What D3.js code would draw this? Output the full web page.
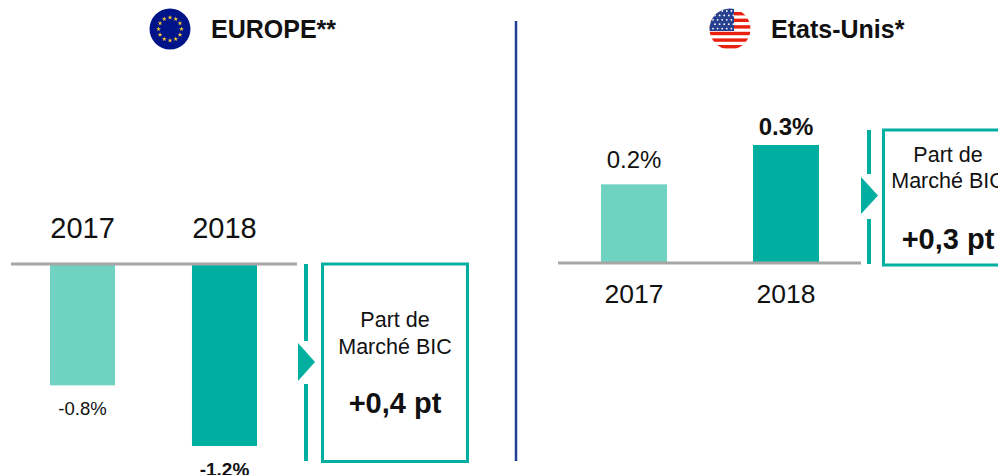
<!DOCTYPE html>
<html>
<head>
<meta charset="utf-8">
<script src="https://cdn.jsdelivr.net/npm/d3@7"></script>
<style>
html, body { margin: 0; padding: 0; background: #fff; }
svg { display: block; }
text { font-family: "Liberation Sans", Arial, sans-serif; fill: #111; }
</style>
</head>
<body>
<script>
var years = ["2017", "2018"];
var europeValues = [-0.8, -1.2];
var usValues = [0.2, 0.3];
var europeValueLabels = ["-0.8%", "-1.2%"];
var usValueLabels = ["0.2%", "0.3%"];
var barColors = ["#70d2c0", "#00afa0"];

var TEAL = "#00afa0";
var GREY = "#a6a6a6";

var svg = d3.select("body").append("svg").attr("width", 998).attr("height", 475);

function drawBars(o) {
	var x = d3.scaleBand().domain(o.years).range(o.xRange).paddingInner(o.inner).paddingOuter(0);
	var y = d3.scaleLinear().domain(o.domain).range(o.yRange);
	var g = svg.append("g");

	g.selectAll("rect").data(o.values).enter().append("rect")
		.attr("x", function(d, i) { return x(o.years[i]); })
		.attr("width", x.bandwidth())
		.attr("y", function(d) { return Math.min(y(0), y(d)); })
		.attr("height", function(d) { return Math.abs(y(d) - y(0)); })
		.style("fill", function(d, i) { return barColors[i]; });

	// baseline
	g.append("line")
		.attr("x1", o.axis[0]).attr("x2", o.axis[1])
		.attr("y1", y(0)).attr("y2", y(0))
		.style("stroke", GREY).style("stroke-width", 3);

	// year labels
	g.selectAll("text.year").data(o.years).enter().append("text")
		.attr("class", "year")
		.attr("x", function(d) { return x(d) + x.bandwidth() / 2; })
		.attr("y", o.yearY)
		.attr("text-anchor", "middle")
		.style("font-size", o.yearSize + "px")
		.text(function(d) { return d; });

	// value labels, last one is bold
	g.selectAll("text.val").data(o.values).enter().append("text")
		.attr("class", "val")
		.attr("x", function(d, i) { return x(o.years[i]) + x.bandwidth() / 2; })
		.attr("y", function(d, i) { return y(d) + o.labelDy[i]; })
		.attr("text-anchor", "middle")
		.style("font-size", function(d, i) { return o.labelSize[i] + "px"; })
		.style("font-weight", function(d, i) { return i == 1 ? "bold" : "normal"; })
		.text(function(d, i) { return o.labels[i]; });
}

drawBars({
	years: years, values: europeValues, labels: europeValueLabels,
	domain: [0, -1.2], yRange: [264, 446], xRange: [50, 257], inner: 0.542,
	axis: [11, 297], yearY: 238, yearSize: 29,
	labelDy: [30, 30], labelSize: [18.5, 19]
});

drawBars({
	years: years, values: usValues, labels: usValueLabels,
	domain: [0, 0.3], yRange: [263, 145], xRange: [601, 819], inner: 0.566,
	axis: [558, 861], yearY: 303, yearSize: 26.5,
	labelDy: [-16, -10], labelSize: [24, 24]
});

// vertical separator
svg.append("line")
	.attr("x1", 516).attr("x2", 516).attr("y1", 21).attr("y2", 461)
	.style("stroke", "#1f3f94").style("stroke-width", 2.5);

function callout(bar, top1, bot1, top2, bot2, triTop, triBot, triW, bx, by, bw, bh, cx, lines) {
	svg.append("rect").attr("x", bar).attr("y", top1).attr("width", 4).attr("height", bot1 - top1).style("fill", TEAL);
	svg.append("rect").attr("x", bar).attr("y", top2).attr("width", 4).attr("height", bot2 - top2).style("fill", TEAL);
	svg.append("path")
		.attr("d", "M" + (bar - 6) + "," + triTop + "L" + (bar - 6 + triW) + "," + ((triTop + triBot) / 2) + "L" + (bar - 6) + "," + triBot + "Z")
		.style("fill", TEAL);
	svg.append("rect").attr("x", bx).attr("y", by).attr("width", bw).attr("height", bh)
		.style("fill", "#fff").style("stroke", TEAL).style("stroke-width", 3);
	lines.forEach(function(l) {
		svg.append("text").attr("x", cx).attr("y", l.y).attr("text-anchor", "middle")
			.style("font-size", l.size + "px").style("font-weight", l.bold ? "bold" : "normal").text(l.t);
	});
}

callout(304, 264, 341, 384, 461, 343, 381, 17, 322.5, 264, 145, 197.5, 395, [
	{ t: "Part de", y: 327, size: 21.5 },
	{ t: "Marché BIC", y: 354, size: 21.5 },
	{ t: "+0,4 pt", y: 413, size: 29, bold: true }
]);

callout(867, 130, 174, 219, 264, 177, 214, 17, 883.5, 130, 130, 135, 948, [
	{ t: "Part de", y: 162, size: 21.5 },
	{ t: "Marché BIC", y: 188, size: 21.5 },
	{ t: "+0,3 pt", y: 249, size: 29, bold: true }
]);

// headers
svg.append("text").attr("x", 211).attr("y", 38).style("font-size", "25px").style("font-weight", "bold").text("EUROPE**");
svg.append("text").attr("x", 771).attr("y", 38).style("font-size", "25px").style("font-weight", "bold").text("Etats-Unis*");

// EU flag
var eu = svg.append("g").attr("transform", "translate(170,29)");
eu.append("circle").attr("r", 20.5).style("fill", "#001489");
d3.range(12).forEach(function(i) {
	var a = i / 12 * 2 * Math.PI;
	eu.append("path")
		.attr("d", d3.symbol().type(d3.symbolStar).size(7)())
		.attr("transform", "translate(" + (Math.sin(a) * 11.5) + "," + (-Math.cos(a) * 11.5) + ")")
		.style("fill", "#f6c935");
});

// US flag
var defs = svg.append("defs");
defs.append("clipPath").attr("id", "usClip").append("circle").attr("r", 20.5);
var us = svg.append("g").attr("transform", "translate(730,29)").append("g").attr("clip-path", "url(#usClip)");
us.append("rect").attr("x", -21).attr("y", -21).attr("width", 42).attr("height", 42).style("fill", "#fff");
d3.range(6).forEach(function(i) {
	us.append("rect").attr("x", -21).attr("y", -17 + i * 6.6).attr("width", 42).attr("height", 3.4).style("fill", "#e8210f");
});
us.append("rect").attr("x", -21).attr("y", -21).attr("width", 25).attr("height", 23).style("fill", "#27408f");
d3.range(5).forEach(function(r) {
	d3.range(5).forEach(function(c) {
		us.append("circle").attr("cx", -17 + c * 4.6 + (r % 2) * 2).attr("cy", -18 + r * 4.4).attr("r", 0.9).style("fill", "#fff");
	});
});
</script>
</body>
</html>
